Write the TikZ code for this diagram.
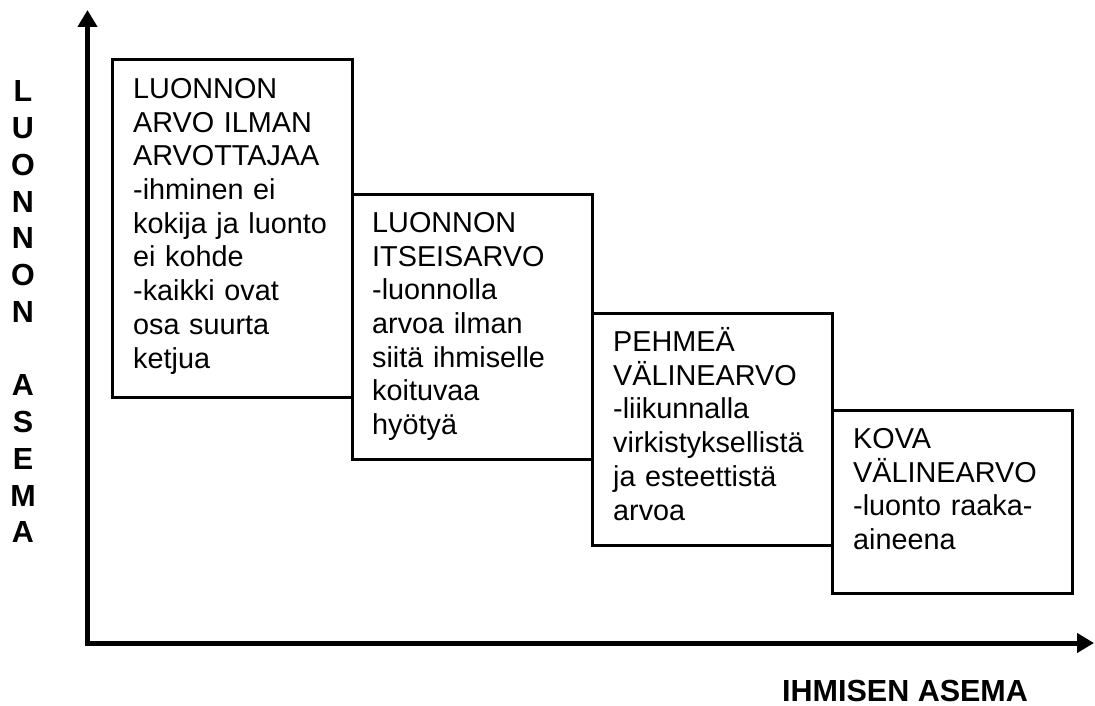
\documentclass[tikz,border=0pt]{standalone}
\usepackage{fontspec}
\setmainfont{Liberation Sans}
\usetikzlibrary{arrows.meta}
\tikzset{
  valuebox/.style={draw, line width=3pt, rectangle, inner sep=0pt, outer sep=0pt,
    minimum width=240pt, anchor=north west},
  boxtext/.style={anchor=base west, inner sep=0pt, text width=218pt, align=left,
    font=\fontsize{28.8}{33.7}\selectfont},
  axislabel/.style={inner sep=0pt, font=\bfseries\fontsize{30.5}{36.75}\selectfont},
  axisline/.style={line width=5pt, line join=miter,
    arrows={Triangle[length=17pt,width=19pt]-Triangle[length=17pt,width=19pt]}}
}
\begin{document}
\begin{tikzpicture}[x=1pt,y=-1pt]
\useasboundingbox (0,0) rectangle (1095,706);
% axes
\coordinate (ytop) at (87.5,10);
\coordinate (o) at (87.5,643);
\coordinate (xend) at (1094,643);
\draw[axisline] (ytop) -- (o) -- (xend);
% boxes
\node[valuebox, minimum height=337pt] (b1) at (112,60) {};
\node[valuebox, minimum height=265pt] (b2) at (352,194) {};
\node[valuebox, minimum height=232pt] (b3) at (592,313) {};
\node[valuebox, minimum height=183pt] (b4) at (832,410) {};
% texts
\node[boxtext] (t1) at ([xshift=21pt,yshift=-38.5pt]b1.north west)
  {LUONNON\\ARVO ILMAN\\ARVOTTAJAA\\-ihminen ei\\kokija ja luonto\\ei kohde\\-kaikki ovat\\osa suurta\\ketjua};
\node[boxtext] (t2) at ([xshift=20pt,yshift=-38.5pt]b2.north west)
  {LUONNON\\ITSEISARVO\\-luonnolla\\arvoa ilman\\siitä ihmiselle\\koituvaa\\hyötyä};
\node[boxtext] (t3) at ([xshift=21pt,yshift=-38.5pt]b3.north west)
  {PEHMEÄ\\VÄLINEARVO\\-liikunnalla\\virkistyksellistä\\ja esteettistä\\arvoa};
\node[boxtext] (t4) at ([xshift=21pt,yshift=-38.5pt]b4.north west)
  {KOVA\\VÄLINEARVO\\-luonto raaka-\\aineena};
% axis labels
\node[axislabel, text width=40pt, align=center, anchor=base] (ylab) at (23,102)
  {L\\U\\O\\N\\N\\O\\N\\\mbox{}\\A\\S\\E\\M\\A};
\node[axislabel, anchor=base west] (xlab) at (782,701.5) {IHMISEN ASEMA};
\end{tikzpicture}
\end{document}
